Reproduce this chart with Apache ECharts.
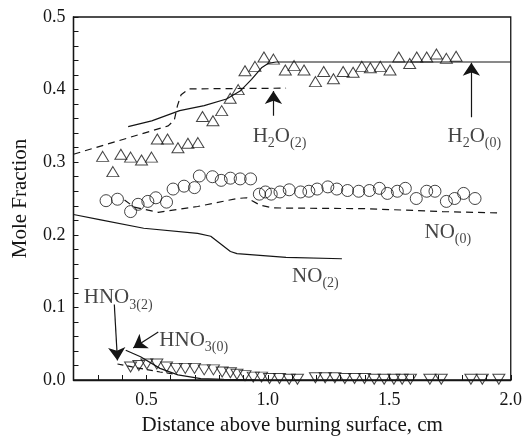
<!DOCTYPE html>
<html>
<head>
<meta charset="utf-8">
<script src="https://cdn.jsdelivr.net/npm/echarts@6/dist/echarts.min.js"></script>
<style>
  html, body { margin: 0; padding: 0; background: #fff; }
  #chart { width: 525px; height: 441px; }
</style>
</head>
<body>
<div id="chart"></div>
<script>
// Measured mole fractions vs distance above the burning surface (cm)
const h2oMeasured = [
  [0.320,0.308],[0.362,0.287],[0.395,0.311],[0.435,0.307],[0.480,0.303],[0.521,0.307],
  [0.545,0.332],[0.587,0.332],[0.630,0.320],[0.671,0.326],[0.712,0.327],[0.731,0.363],
  [0.774,0.357],[0.810,0.371],[0.845,0.388],[0.878,0.400],[0.906,0.426],[0.947,0.432],
  [0.984,0.445],[1.023,0.442],[1.072,0.427],[1.108,0.433],[1.149,0.427],[1.196,0.411],
  [1.230,0.425],[1.270,0.415],[1.310,0.425],[1.351,0.424],[1.387,0.432],[1.422,0.430],
  [1.463,0.432],[1.503,0.427],[1.539,0.445],[1.584,0.436],[1.613,0.445],[1.654,0.445],
  [1.694,0.449],[1.735,0.443],[1.775,0.446]
];
const noMeasured = [
  [0.334,0.247],[0.381,0.249],[0.435,0.232],[0.466,0.242],[0.506,0.246],[0.539,0.251],
  [0.583,0.245],[0.610,0.263],[0.655,0.267],[0.698,0.265],[0.718,0.281],[0.772,0.280],
  [0.808,0.275],[0.846,0.278],[0.886,0.277],[0.929,0.277],[0.965,0.256],[0.990,0.259],
  [1.014,0.256],[1.050,0.259],[1.088,0.262],[1.135,0.259],[1.169,0.260],[1.203,0.263],
  [1.247,0.266],[1.284,0.263],[1.328,0.261],[1.374,0.260],[1.418,0.261],[1.459,0.264],
  [1.492,0.257],[1.533,0.260],[1.566,0.264],[1.611,0.250],[1.654,0.260],[1.688,0.260],
  [1.735,0.246],[1.769,0.250],[1.806,0.257],[1.853,0.250]
];
const hno3Measured = [
  [0.435,0.018],[0.469,0.020],[0.502,0.022],[0.543,0.022],[0.583,0.018],[0.623,0.016],
  [0.660,0.016],[0.698,0.016],[0.738,0.014],[0.776,0.014],[0.812,0.011],[0.846,0.010],
  [0.873,0.008],[0.906,0.006],[0.940,0.004],[0.974,0.004],[1.007,0.002],[1.048,0.002],
  [1.088,0.001],[1.122,0.001],[1.196,0.003],[1.236,0.003],[1.276,0.003],[1.317,0.002],
  [1.357,0.002],[1.398,0.002],[1.438,0.001],[1.479,0.001],[1.519,0.001],[1.553,0.001],
  [1.587,0.001],[1.667,0.001],[1.714,0.001],[1.836,0.001],[1.883,0.001],[1.951,0.001]
];

// Model predictions
const h2oModel0 = [
  [0.425,0.349],[0.522,0.357],[0.637,0.371],[0.738,0.378],[0.830,0.387],[0.886,0.398],
  [0.933,0.414],[0.974,0.430],[1.001,0.436],[1.034,0.438],[2.0,0.438]
];
const h2oModel2 = [
  [0.2,0.311],[0.59,0.350],[0.615,0.358],[0.628,0.378],[0.643,0.393],[0.675,0.401],[1.075,0.402]
];
const noModel0 = [
  [0.41,0.248],[0.45,0.238],[0.549,0.231],[0.711,0.239],[0.873,0.250],[0.913,0.251],
  [0.967,0.241],[1.021,0.237],[1.40,0.236],[1.72,0.232],[1.957,0.230]
];
const noModel2 = [
  [0.2,0.228],[0.307,0.221],[0.489,0.209],[0.711,0.202],[0.765,0.198],[0.846,0.177],
  [0.873,0.174],[1.075,0.169],[1.305,0.167]
];
const hno3Model0 = [
  [0.415,0.041],[0.476,0.032],[0.556,0.016],[0.630,0.007],[0.724,0.002],[0.819,0.001],[0.95,0.0]
];
const hno3Model2 = [
  [0.381,0.022],[0.442,0.018],[0.556,0.011],[0.62,0.008]
];

// Curve labels and their arrows (data coordinates)
const curveLabels = [
  { name: '{m|H}{s|2}{m|O}{s|(2)}', value: [1.048, 0.335] },
  { name: '{m|H}{s|2}{m|O}{s|(0)}', value: [1.850, 0.335] },
  { name: '{m|NO}{s|(0)}', value: [1.741, 0.203] },
  { name: '{m|NO}{s|(2)}', value: [1.196, 0.143] },
  { name: '{m|HNO}{s|3(2)}', value: [0.384, 0.113] },
  { name: '{m|HNO}{s|3(0)}', value: [0.695, 0.054] }
];
const arrows = [
  [[1.023, 0.364], [1.023, 0.398]],
  [[1.838, 0.362], [1.838, 0.437]],
  [[0.368, 0.104], [0.381, 0.027]],
  [[0.549, 0.066], [0.446, 0.044]]
];

const xTickLabels = ['0.5', '1.0', '1.5', '2.0'];
const yTickLabels = ['0.0', '0.1', '0.2', '0.3', '0.4', '0.5'];

const INK = '#151515';
const FONT = "'Liberation Serif', 'Times New Roman', serif";

function onGrid(v, step) {
  const k = v / step;
  return Math.abs(k - Math.round(k)) < 1e-6;
}

const chart = echarts.init(document.getElementById('chart'), null, { renderer: 'canvas' });

const hollow = { color: 'transparent', borderColor: INK, borderWidth: 1 };

chart.setOption({
  animation: false,
  backgroundColor: '#fff',
  grid: {
    left: 73.5, right: 7.5, top: 17, bottom: 57.7,
    show: true, borderColor: INK, borderWidth: 1.3, backgroundColor: 'transparent'
  },
  xAxis: {
    type: 'value', min: 0.2, max: 2.0, interval: 0.1,
    name: 'Distance above burning surface, cm',
    nameLocation: 'middle', nameGap: 35,
    nameTextStyle: { fontFamily: FONT, fontSize: 21, color: INK },
    axisLine: { lineStyle: { color: INK, width: 1.3 } },
    axisTick: { inside: true, length: 5, lineStyle: { color: INK, width: 1 } },
    splitLine: { show: false },
    axisLabel: {
      margin: 11, fontFamily: FONT, fontSize: 18, color: INK,
      formatter: function (v) {
        if (!onGrid(v, 0.5)) return '';
        const t = v.toFixed(1);
        return xTickLabels.indexOf(t) >= 0 ? t : '';
      }
    }
  },
  yAxis: {
    type: 'value', min: 0, max: 0.5, interval: 0.02,
    name: 'Mole Fraction',
    nameLocation: 'middle', nameGap: 43,
    nameTextStyle: { fontFamily: FONT, fontSize: 21, color: INK },
    axisLine: { show: true, lineStyle: { color: INK, width: 1.3 } },
    axisTick: { show: true, inside: true, length: 5, lineStyle: { color: INK, width: 1 } },
    splitLine: { show: false },
    axisLabel: {
      margin: 8, fontFamily: FONT, fontSize: 18, color: INK,
      formatter: function (v) {
        if (!onGrid(v, 0.1)) return '';
        const t = v.toFixed(1);
        return yTickLabels.indexOf(t) >= 0 ? t : '';
      }
    }
  },
  series: [
    { type: 'line', data: h2oModel0, symbol: 'none', lineStyle: { color: INK, width: 1.2 } },
    { type: 'line', data: h2oModel2, symbol: 'none', lineStyle: { color: INK, width: 1.2, type: [7, 5] } },
    { type: 'line', data: noModel0, symbol: 'none', lineStyle: { color: INK, width: 1.2, type: [7, 5] } },
    { type: 'line', data: noModel2, symbol: 'none', lineStyle: { color: INK, width: 1.2 } },
    { type: 'line', data: hno3Model0, symbol: 'none', lineStyle: { color: INK, width: 1.2 } },
    { type: 'line', data: hno3Model2, symbol: 'none', lineStyle: { color: INK, width: 1.2, type: [6, 4] } },
    {
      type: 'scatter', data: h2oMeasured, symbol: 'triangle', symbolSize: [12, 10],
      itemStyle: hollow, clip: false
    },
    {
      type: 'scatter', data: noMeasured, symbol: 'circle', symbolSize: 12,
      itemStyle: hollow, clip: false
    },
    {
      type: 'scatter', data: hno3Measured, symbol: 'triangle', symbolRotate: 180, symbolSize: [12, 10],
      itemStyle: hollow, clip: false
    },
    {
      type: 'scatter', data: curveLabels, symbolSize: 0, silent: true,
      itemStyle: { color: INK },
      label: {
        show: true, position: 'inside', color: INK,
        formatter: function (p) { return p.name; },
        rich: {
          m: { fontFamily: FONT, fontSize: 21, color: INK },
          s: { fontFamily: FONT, fontSize: 14, color: INK, padding: [14, 0, 0, 0] }
        }
      }
    },
    {
      // arrows pointing from the labels to their curves
      type: 'lines', coordinateSystem: 'cartesian2d', silent: true,
      symbol: ['none', 'arrow'], symbolSize: 13,
      lineStyle: { color: INK, width: 1.2, opacity: 1, curveness: 0 },
      itemStyle: { color: INK },
      data: arrows.map(function (a) { return { coords: a }; })
    }
  ]
});
</script>
</body>
</html>
